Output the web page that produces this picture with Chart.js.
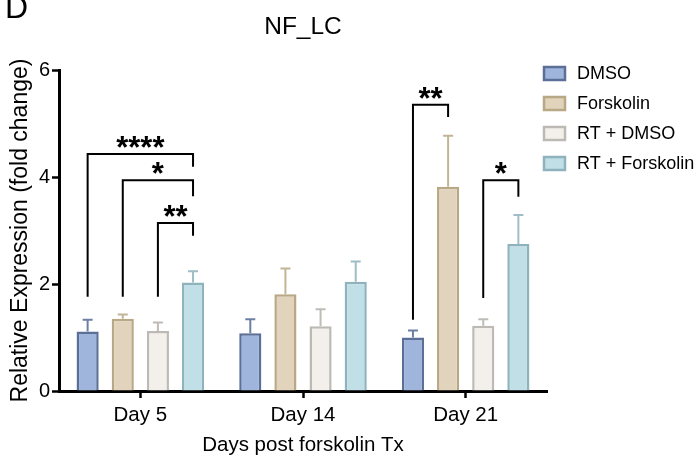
<!DOCTYPE html>
<html>
<head>
<meta charset="utf-8">
<script src="https://cdn.jsdelivr.net/npm/chart.js@4.4.0/dist/chart.umd.min.js"></script>
<style>
  body { margin: 0; background: #fff; }
  canvas { display: block; }
</style>
</head>
<body>
<canvas id="chart" width="696" height="458"></canvas>
<script>
// ===== data =====
const categories = ["Day 5", "Day 14", "Day 21"];
const seriesNames = ["DMSO", "Forskolin", "RT + DMSO", "RT + Forskolin"];

const dmso = [1.11, 1.08, 1.0];
const forskolin = [1.35, 1.81, 3.82];
const rtDmso = [1.12, 1.21, 1.22];
const rtForskolin = [2.03, 2.04, 2.75];

// upper error for each bar
const dmsoErr = [0.22, 0.26, 0.13];
const forskolinErr = [0.08, 0.48, 0.95];
const rtDmsoErr = [0.16, 0.32, 0.12];
const rtForskolinErr = [0.21, 0.38, 0.54];

const yTicks = [0, 2, 4, 6];

// significance brackets
const bracketCat = [0, 0, 0, 2, 2];
const bracketFrom = [0, 1, 2, 0, 2];
const bracketTo = [3, 3, 3, 1, 3];
const bracketTop = [4.43, 3.94, 3.14, 5.35, 3.94];
const bracketLeftEnd = [1.76, 1.76, 1.76, 1.33, 1.74];
const bracketRightEnd = [4.19, 3.64, 2.9, 5.12, 3.63];
const bracketLabel = ["****", "*", "**", "**", "*"];

const FONT = "'Liberation Sans', Arial, sans-serif";

const fills = ["#9fb5dc", "#e1d3bc", "#f3f0eb", "#c1dfe7"];
const borders = ["#5b6f97", "#b8a886", "#bdbab5", "#8fb3bd"];
const errColors = ["#6c80a5", "#c2b497", "#bfbcb7", "#9ebdc6"];

const values = [dmso, forskolin, rtDmso, rtForskolin];
const errors = [dmsoErr, forskolinErr, rtDmsoErr, rtForskolinErr];

const datasets = seriesNames.map((name, i) => ({
  label: name,
  data: values[i],
  backgroundColor: fills[i],
  borderColor: borders[i],
  borderWidth: 2.5,
  borderSkipped: "start",
}));

/* ===== error bars, brackets, legend, labels ===== */
const extras = {
  id: "extras",
  afterDatasetsDraw(chart) {
    const ctx = chart.ctx;
    const y = chart.scales.y;
    ctx.save();
    chart.data.datasets.forEach((ds, i) => {
      const meta = chart.getDatasetMeta(i);
      meta.data.forEach((bar, j) => {
        const top = y.getPixelForValue(values[i][j]);
        const end = y.getPixelForValue(values[i][j] + errors[i][j]);
        ctx.strokeStyle = errColors[i];
        ctx.lineWidth = 2;
        ctx.beginPath();
        ctx.moveTo(bar.x, top);
        ctx.lineTo(bar.x, end);
        ctx.moveTo(bar.x - 5, end);
        ctx.lineTo(bar.x + 5, end);
        ctx.stroke();
      });
    });
    ctx.restore();
  },
  afterDraw(chart) {
    const ctx = chart.ctx;
    const y = chart.scales.y;
    const area = chart.chartArea;
    ctx.save();

    // brackets
    ctx.strokeStyle = "#000";
    ctx.lineWidth = 2;
    ctx.fillStyle = "#000";
    ctx.textAlign = "center";
    ctx.textBaseline = "alphabetic";
    ctx.font = "bold 31px " + FONT;
    bracketCat.forEach((c, k) => {
      const x1 = chart.getDatasetMeta(bracketFrom[k]).data[c].x;
      const x2 = chart.getDatasetMeta(bracketTo[k]).data[c].x;
      const yt = y.getPixelForValue(bracketTop[k]);
      ctx.beginPath();
      ctx.moveTo(x1, y.getPixelForValue(bracketLeftEnd[k]));
      ctx.lineTo(x1, yt);
      ctx.lineTo(x2, yt);
      ctx.lineTo(x2, y.getPixelForValue(bracketRightEnd[k]));
      ctx.stroke();
      ctx.fillText(bracketLabel[k], (x1 + x2) / 2, yt + 4);
    });

    // title
    ctx.font = "24.5px " + FONT;
    ctx.textBaseline = "middle";
    ctx.fillText("NF_LC", (area.left + area.right) / 2, 27);

    // panel letter
    ctx.textAlign = "left";
    ctx.textBaseline = "alphabetic";
    ctx.font = "32px " + FONT;
    ctx.fillText("D", 5, 18);

    // legend
    ctx.font = "18px " + FONT;
    ctx.textBaseline = "middle";
    seriesNames.forEach((name, i) => {
      const top = 67 + i * 30;
      ctx.fillStyle = fills[i];
      ctx.fillRect(544, top, 21, 13);
      ctx.strokeStyle = borders[i];
      ctx.lineWidth = 2.5;
      ctx.strokeRect(544, top, 21, 13);
      ctx.fillStyle = "#000";
      ctx.fillText(name, 577, top + 7);
    });
    ctx.restore();
  },
};

const ctx = document.getElementById("chart").getContext("2d");

new Chart(ctx, {
  type: "bar",
  data: {
    labels: categories,
    datasets: datasets,
  },
  options: {
    responsive: false,
    devicePixelRatio: 1,
    animation: false,
    layout: { padding: { left: 0, top: 70, right: 149, bottom: 0 } },
    datasets: {
      bar: { categoryPercentage: 0.864, barPercentage: 0.63 },
    },
    plugins: {
      legend: { display: false },
      tooltip: { enabled: false },
    },
    scales: {
      x: {
        grid: {
          offset: false,
          drawOnChartArea: false,
          tickLength: 7,
          tickWidth: 2.5,
          tickColor: "#000",
        },
        border: { color: "#000", width: 3 },
        ticks: { font: { family: FONT, size: 20.5 }, color: "#000", padding: 5 },
        title: {
          display: true,
          text: "Days post forskolin Tx",
          font: { family: FONT, size: 20.5 },
          color: "#000",
          padding: 0,
        },
        afterFit: (s) => {
          s.height = 67;
        },
      },
      y: {
        min: 0,
        max: 6,
        afterBuildTicks: (s) => {
          s.ticks = yTicks.map((v) => ({ value: v }));
        },
        grid: {
          drawOnChartArea: false,
          tickLength: 7,
          tickWidth: 2.5,
          tickColor: "#000",
        },
        border: { color: "#000", width: 3 },
        ticks: { font: { family: FONT, size: 20 }, color: "#000", padding: 2 },
        title: {
          display: true,
          text: "Relative Expression (fold change)",
          font: { family: FONT, size: 23 },
          color: "#000",
          padding: { top: 7, bottom: 0 },
        },
        afterFit: (s) => {
          s.width = 59;
        },
      },
    },
  },
  plugins: [extras],
});
</script>
</body>
</html>
